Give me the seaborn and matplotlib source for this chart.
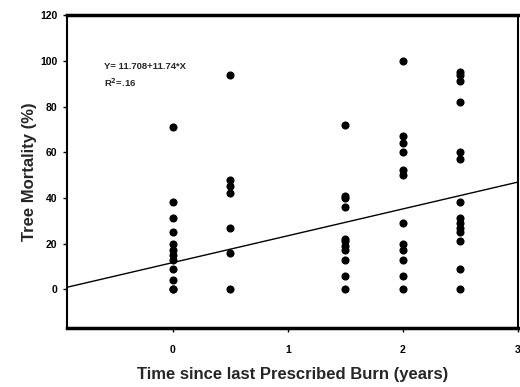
import matplotlib
matplotlib.use("Agg")
import matplotlib.pyplot as plt
import seaborn as sns
import pandas as pd

# Data
years_0 = [71, 38, 31, 25, 20, 17, 15, 13, 9, 4, 0, 0]
years_05 = [94, 48, 45, 42, 27, 16, 0]
years_15 = [72, 41, 40, 36, 22, 21, 19, 17, 13, 6, 0]
years_2 = [100, 67, 64, 60, 52, 50, 29, 20, 17, 13, 6, 0]
years_25 = [95, 94, 91, 82, 60, 57, 38, 31, 29, 27, 25, 21, 9, 0]
groups = {0.0: years_0, 0.5: years_05, 1.5: years_15, 2.0: years_2, 2.5: years_25}

intercept = 11.708
slope = 11.74
x_ticks = [0, 1, 2, 3]
y_ticks = [0, 20, 40, 60, 80, 100, 120]

rows = [(x, y) for x, ys in groups.items() for y in ys]
df = pd.DataFrame(rows, columns=["time", "mortality"])

sns.set_style("ticks")
plt.rcParams['font.family'] = ['Liberation Sans', 'DejaVu Sans']

fig = plt.figure(figsize=(5.2, 3.87), dpi=100)
ax = fig.add_axes([0.129, 0.152, 0.867, 0.809])

sns.scatterplot(data=df, x="time", y="mortality", ax=ax, color="black",
                s=34, edgecolor="black", linewidth=0, zorder=3)
ax.axline((0, intercept), slope=slope, color="black", lw=1.0, zorder=2)

ax.set_xlim(-0.92, 3.0)
ax.set_ylim(-17, 120)
ax.set_xticks(x_ticks)
ax.set_yticks(y_ticks)
ax.set_xticklabels([str(t) for t in x_ticks], fontsize=7.5, fontweight="bold")
ax.set_yticklabels([str(t) for t in y_ticks], fontsize=7.5, fontweight="bold")
ax.tick_params(direction="out", length=3, width=1, pad=9, colors="black")
ax.tick_params(axis="y", pad=4)

ax.set_xlabel("Time since last Prescribed Burn (years)", fontsize=12,
              fontweight="bold", labelpad=9)
ax.set_ylabel("Tree Mortality (%)", fontsize=12, fontweight="bold", labelpad=2)

for side, w in {"left": 1.5, "bottom": 2.5, "top": 2.5, "right": 1.5}.items():
    ax.spines[side].set_visible(True)
    ax.spines[side].set_linewidth(w)
    ax.spines[side].set_color("black")

ax.text(-0.6, 97.5, "Y= 11.708+11.74*X", fontsize=6.8, fontweight="bold", va="center")
ax.text(-0.6, 90.5, r"R$^{\mathbf{2}}$=.16", fontsize=6.8, fontweight="bold", va="center")

fig.savefig("out.png", dpi=100)
